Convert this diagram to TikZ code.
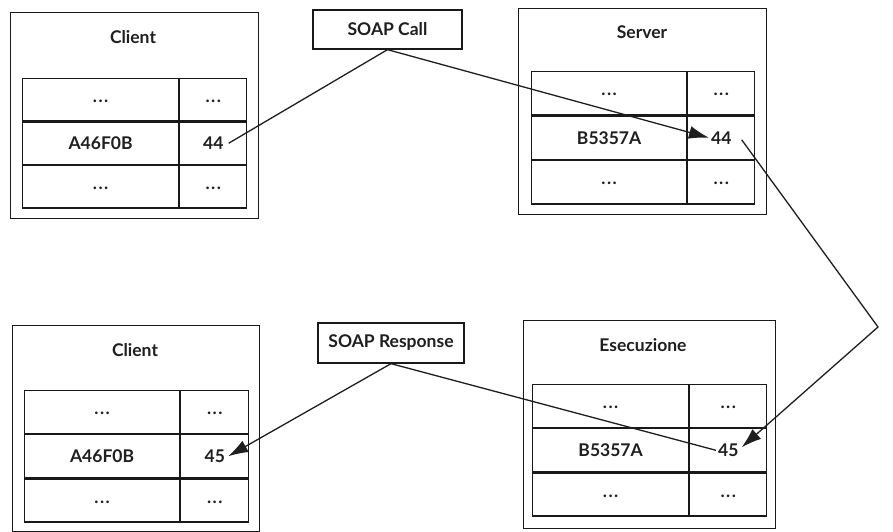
\documentclass[tikz,border=0pt]{standalone}
\usepackage{fontspec}
\setmainfont{Lato}
\usetikzlibrary{arrows.meta}

% A 3x2 table of cells; the middle row carries the two given labels.
% #1 prefix, #2/#3 top-left corner, #4 left width, #5 right width, #6 row height,
% #7 middle-left text, #8 middle-right text
\newcommand{\celltable}[8]{%
  \node[cell, minimum width=#4, minimum height=#6] (#1-a1) at (#2,#3) {\dotsmark};
  \node[cell, minimum width=#5, minimum height=#6] (#1-b1) at (#1-a1.north east) {\dotsmark};
  \node[cell, minimum width=#4, minimum height=#6] (#1-a2) at (#1-a1.south west) {#7};
  \node[cell, minimum width=#5, minimum height=#6] (#1-b2) at (#1-a2.north east) {};
  \node[cell, minimum width=#4, minimum height=#6] (#1-a3) at (#1-a2.south west) {\dotsmark};
  \node[cell, minimum width=#5, minimum height=#6] (#1-b3) at (#1-a3.north east) {\dotsmark};
  \node[value] (#1-v) at (#1-b2.center) {#8};
}
\newcommand{\dotsmark}{\raisebox{-0.6ex}{.\kern1.5pt.\kern1.5pt.}}

\begin{document}
\begin{tikzpicture}[x=1pt, y=-1pt,
  every node/.style={font=\fontsize{17.5}{20}\selectfont\bfseries, text=black!88},
  frame/.style={draw=black!90, line width=1.3pt, rectangle, anchor=north west, inner sep=0pt},
  cell/.style={draw=black!90, line width=1.2pt, rectangle, anchor=north west, inner sep=0pt},
  value/.style={inner sep=2pt},
  msg/.style={draw=black!90, line width=1.3pt, rectangle, inner sep=0pt},
  link/.style={line width=1.3pt, black!88},
  arrowlink/.style={link, -{Latex[length=20pt, width=13pt]}}
]
\useasboundingbox (0,0) rectangle (893,532);
\fill[white] (0,0) rectangle (893,532);

% caller side, before the call
\node[frame, minimum width=248, minimum height=206] (clientA) at (10,12) {};
\node (clientA-t) at (133,37) {Client};
\celltable{ca}{22}{78}{156}{67}{42.3}{A46F0B}{44}

% server side
\node[frame, minimum width=248, minimum height=206] (server) at (518,8) {};
\node (server-t) at (642,32) {Server};
\celltable{sv}{531}{71}{155}{67}{43.3}{B5357A}{44}

% caller side, after the response
\node[frame, minimum width=247, minimum height=206] (clientB) at (12,325) {};
\node (clientB-t) at (135,350) {Client};
\celltable{cb}{24}{390}{155}{68}{43}{A46F0B}{45}

% execution on the server
\node[frame, minimum width=252, minimum height=208] (exec) at (523,320) {};
\node (exec-t) at (643,345) {Esecuzione};
\celltable{ex}{532}{384}{156}{77}{43}{B5357A}{45}

% messages
\node[msg, minimum width=149, minimum height=39] (call) at (387.5,29.5) {SOAP Call};
\node[msg, minimum width=146, minimum height=40] (resp) at (391,343) {SOAP Response};

\coordinate (turn) at (878,327);

\draw[link] (call.south) -- ([xshift=3pt]ca-v.east);
\draw[arrowlink] (call.south) -- (sv-v.west);
\draw[arrowlink] ([xshift=8pt,yshift=-2pt]sv-v.east) -- (turn) -- ([xshift=1pt,yshift=3pt]ex-v.east);
\draw[link] (resp.south) -- (ex-v.west);
\draw[arrowlink] (resp.south) -- ([xshift=1pt]cb-v.east);
\end{tikzpicture}
\end{document}
